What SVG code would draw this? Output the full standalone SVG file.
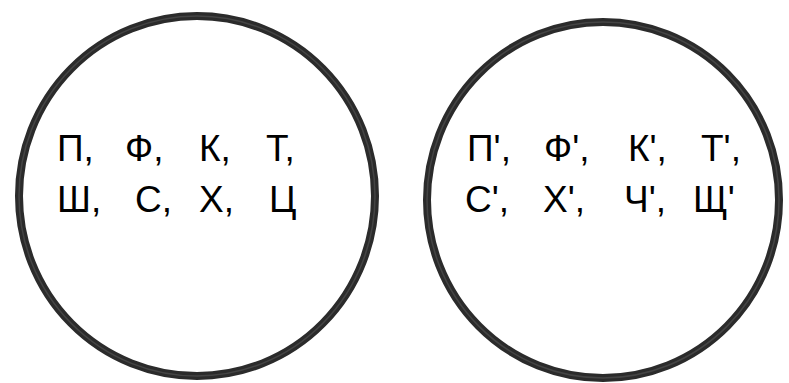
<svg xmlns="http://www.w3.org/2000/svg" width="789" height="383" viewBox="0 0 789 383">
<style>
.ring{fill:none;stroke:#2b2b2b;stroke-width:8}
.ring2{fill:none;stroke:#555;stroke-width:1.5;opacity:0.6}
.t{font-family:"Liberation Sans",Arial,sans-serif;font-size:37px;fill:#000}
</style>
<rect width="789" height="383" fill="#fff"/>
<g id="left-set">
<ellipse class="ring" cx="197" cy="196" rx="178" ry="180"/>
<ellipse class="ring2" cx="197" cy="196" rx="178" ry="180"/>
<text class="t" y="161"><tspan x="57">П,</tspan><tspan x="125">Ф,</tspan><tspan x="199">К,</tspan><tspan x="266">Т,</tspan></text>
<text class="t" y="212"><tspan x="57">Ш,</tspan><tspan x="135">С,</tspan><tspan x="199">Х,</tspan><tspan x="269">Ц</tspan></text>
</g>
<g id="right-set">
<ellipse class="ring" cx="603" cy="200" rx="176" ry="178"/>
<ellipse class="ring2" cx="603" cy="200" rx="176" ry="178"/>
<text class="t" y="161"><tspan x="467">П',</tspan><tspan x="544">Ф',</tspan><tspan x="628">К',</tspan><tspan x="701">Т',</tspan></text>
<text class="t" y="212"><tspan x="465">С',</tspan><tspan x="543">Х',</tspan><tspan x="624">Ч',</tspan><tspan x="693">Щ'</tspan></text>
</g>
<g id="connectors"/>
</svg>
